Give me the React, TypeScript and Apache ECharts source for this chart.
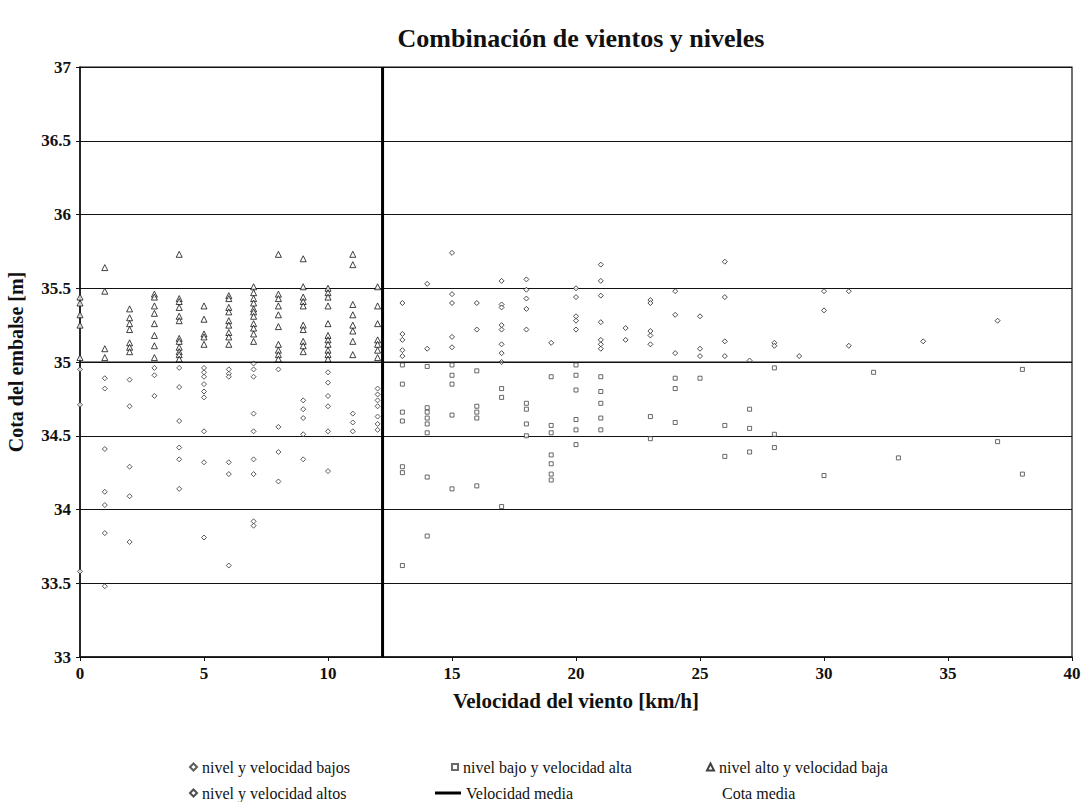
import React, { useEffect, useRef } from 'react';
import * as echarts from 'echarts';

const titulo = 'Combinación de vientos y niveles';
const ejeX = 'Velocidad del viento [km/h]';
const ejeY = 'Cota del embalse [m]';

const velocidadMedia = 12.2;
const cotaMedia = 35;

// [velocidad, [cotas...]]
const nivelVelocidadBajos: [number, number[]][] = [
  [0, [34.95, 34.71, 33.58]],
  [1, [34.89, 34.82, 34.41, 34.12, 34.03, 33.84, 33.48]],
  [2, [34.88, 34.7, 34.29, 34.09, 33.78]],
  [3, [34.96, 34.91, 34.77]],
  [4, [34.96, 34.83, 34.6, 34.42, 34.34, 34.14]],
  [5, [34.96, 34.93, 34.9, 34.85, 34.8, 34.76, 34.53, 34.32, 33.81]],
  [6, [34.95, 34.92, 34.9, 34.32, 34.24, 33.62]],
  [7, [34.99, 34.95, 34.9, 34.65, 34.53, 34.34, 34.24, 33.92, 33.89]],
  [8, [34.95, 34.56, 34.39, 34.19]],
  [9, [34.74, 34.68, 34.62, 34.51, 34.34]],
  [10, [34.93, 34.86, 34.77, 34.7, 34.53, 34.26]],
  [11, [34.65, 34.59, 34.53]],
  [12, [34.82, 34.78, 34.74, 34.7, 34.63, 34.58, 34.54]],
];

const nivelBajoVelocidadAlta: [number, number[]][] = [
  [13, [34.98, 34.85, 34.66, 34.6, 34.29, 34.25, 33.62]],
  [14, [34.97, 34.69, 34.66, 34.62, 34.58, 34.52, 34.22, 33.82]],
  [15, [34.98, 34.91, 34.85, 34.64, 34.14]],
  [16, [34.94, 34.7, 34.66, 34.62, 34.16]],
  [17, [34.82, 34.76, 34.02]],
  [18, [34.72, 34.68, 34.58, 34.5]],
  [19, [34.9, 34.57, 34.52, 34.37, 34.31, 34.24, 34.2]],
  [20, [34.98, 34.91, 34.81, 34.61, 34.54, 34.44]],
  [21, [34.9, 34.8, 34.72, 34.62, 34.54]],
  [23, [34.63, 34.48]],
  [24, [34.89, 34.82, 34.59]],
  [25, [34.89]],
  [26, [34.57, 34.36]],
  [27, [34.68, 34.55, 34.39]],
  [28, [34.96, 34.51, 34.42]],
  [30, [34.23]],
  [32, [34.93]],
  [33, [34.35]],
  [37, [34.46]],
  [38, [34.95, 34.24]],
];

const nivelAltoVelocidadBaja: [number, number[]][] = [
  [0, [35.44, 35.4, 35.32, 35.25, 35.03]],
  [1, [35.64, 35.48, 35.09, 35.03]],
  [2, [35.36, 35.3, 35.26, 35.22, 35.13, 35.1, 35.07]],
  [3, [35.46, 35.44, 35.38, 35.33, 35.26, 35.18, 35.11, 35.03]],
  [4, [35.73, 35.43, 35.41, 35.37, 35.31, 35.28, 35.16, 35.14, 35.1, 35.07, 35.05, 35.02]],
  [5, [35.38, 35.29, 35.19, 35.17, 35.12]],
  [6, [35.45, 35.43, 35.37, 35.34, 35.28, 35.25, 35.2, 35.17, 35.12]],
  [7, [35.51, 35.47, 35.43, 35.4, 35.36, 35.34, 35.31, 35.26, 35.23, 35.19, 35.14]],
  [8, [35.73, 35.46, 35.43, 35.38, 35.32, 35.24, 35.12, 35.08, 35.05, 35.02]],
  [9, [35.7, 35.51, 35.44, 35.41, 35.38, 35.25, 35.22, 35.14, 35.11, 35.07]],
  [10, [35.5, 35.47, 35.44, 35.38, 35.26, 35.18, 35.15, 35.12, 35.08, 35.05, 35.02]],
  [11, [35.73, 35.66, 35.39, 35.32, 35.25, 35.21, 35.14, 35.05]],
  [12, [35.51, 35.38, 35.26, 35.15, 35.12, 35.08, 35.03]],
];

const nivelVelocidadAltos: [number, number[]][] = [
  [13, [35.4, 35.19, 35.15, 35.08, 35.04]],
  [14, [35.53, 35.09]],
  [15, [35.74, 35.46, 35.4, 35.17, 35.1]],
  [16, [35.4, 35.22]],
  [17, [35.55, 35.39, 35.37, 35.25, 35.22, 35.12, 35.06, 35.0]],
  [18, [35.56, 35.49, 35.43, 35.36, 35.22]],
  [19, [35.13]],
  [20, [35.5, 35.44, 35.31, 35.28, 35.22]],
  [21, [35.66, 35.55, 35.45, 35.27, 35.15, 35.12, 35.09]],
  [22, [35.23, 35.15]],
  [23, [35.42, 35.4, 35.21, 35.18, 35.12]],
  [24, [35.48, 35.32, 35.06]],
  [25, [35.31, 35.09, 35.04]],
  [26, [35.68, 35.44, 35.14, 35.04]],
  [27, [35.01]],
  [28, [35.13, 35.11]],
  [29, [35.04]],
  [30, [35.48, 35.35]],
  [31, [35.48, 35.11]],
  [34, [35.14]],
  [37, [35.28]],
];

const nombres = [
  'nivel y velocidad bajos',
  'nivel bajo y velocidad alta',
  'nivel alto y velocidad baja',
  'nivel y velocidad altos',
  'Velocidad media',
  'Cota media',
];

const flat = (cols: [number, number[]][]) =>
  cols.flatMap(([v, ys]) => ys.map((y) => [v, y]));

const FONT = '"Liberation Serif", "DejaVu Serif", serif';

export default function App() {
  const ref = useRef<HTMLDivElement>(null);
  useEffect(() => {
    if (!ref.current) return;
    const chart = echarts.init(ref.current, undefined, { renderer: 'svg' });
    const hollow = (border: string) => ({ color: '#fff', borderColor: border, borderWidth: 1 });
    const legendText = { fontFamily: FONT, fontSize: 16, color: '#111' };
    const mkLegend = (item: any, left: number, top: number, extra: any = {}) => ({
      data: [item],
      left,
      top,
      itemWidth: 7,
      itemHeight: 7,
      selectedMode: false,
      textStyle: legendText,
      ...extra,
    });
    chart.setOption({
      animation: false,
      backgroundColor: '#fff',
      textStyle: { fontFamily: FONT },
      title: {
        text: titulo,
        left: 576,
        textAlign: 'center',
        top: 20,
        textStyle: { fontFamily: FONT, fontSize: 26, fontWeight: 'bold', color: '#111' },
      },
      grid: {
        left: 80,
        right: 16,
        top: 67,
        bottom: 145,
        containLabel: false,
        outerBoundsMode: 'none',
        show: true,
        borderColor: '#111',
        borderWidth: 1.2,
        backgroundColor: 'transparent',
      },
      legend: [
        mkLegend(nombres[0], 184, 754),
        mkLegend(nombres[1], 446, 754, { itemWidth: 6, itemHeight: 6 }),
        mkLegend(nombres[2], 701, 754),
        mkLegend(nombres[3], 184, 780),
        mkLegend({ name: nombres[4], icon: 'rect' }, 430, 780, { itemWidth: 26, itemHeight: 3 }),
        mkLegend({ name: nombres[5], icon: 'none' }, 707, 780, { itemWidth: 5 }),
      ],
      xAxis: {
        type: 'value',
        min: 0,
        max: 40,
        interval: 5,
        name: ejeX,
        nameLocation: 'middle',
        nameGap: 33,
        nameTextStyle: { fontFamily: FONT, fontSize: 21, fontWeight: 'bold', color: '#111' },
        axisLine: { lineStyle: { color: '#111', width: 1.5 } },
        axisTick: { show: true, length: 4, lineStyle: { color: '#111' } },
        axisLabel: { fontFamily: FONT, fontSize: 17, fontWeight: 'bold', color: '#111', margin: 8 },
        splitLine: { show: false },
      },
      yAxis: {
        type: 'value',
        min: 33,
        max: 37,
        interval: 0.5,
        name: ejeY,
        nameLocation: 'middle',
        nameGap: 54,
        nameTextStyle: { fontFamily: FONT, fontSize: 20, fontWeight: 'bold', color: '#111' },
        axisLine: { show: true, lineStyle: { color: '#111', width: 1.5 } },
        axisTick: { show: true, length: 4, lineStyle: { color: '#111' } },
        axisLabel: { fontFamily: FONT, fontSize: 17, fontWeight: 'bold', color: '#111', margin: 9 },
        splitLine: { show: true, lineStyle: { color: '#111', width: 1.2 } },
      },
      series: [
        {
          name: nombres[0],
          type: 'scatter',
          symbol: 'diamond',
          symbolSize: 5,
          itemStyle: hollow('#333'),
          data: flat(nivelVelocidadBajos),
        },
        {
          name: nombres[1],
          type: 'scatter',
          symbol: 'rect',
          symbolSize: 4,
          itemStyle: hollow('#444'),
          data: flat(nivelBajoVelocidadAlta),
        },
        {
          name: nombres[2],
          type: 'scatter',
          symbol: 'triangle',
          symbolSize: 6,
          itemStyle: hollow('#111'),
          data: flat(nivelAltoVelocidadBaja),
        },
        {
          name: nombres[3],
          type: 'scatter',
          symbol: 'diamond',
          symbolSize: 5,
          itemStyle: hollow('#222'),
          data: flat(nivelVelocidadAltos),
        },
        {
          name: nombres[4],
          type: 'line',
          symbol: 'none',
          lineStyle: { color: '#000', width: 3 },
          itemStyle: { color: '#000' },
          data: [
            [velocidadMedia, 33],
            [velocidadMedia, 37],
          ],
        },
        {
          name: nombres[5],
          type: 'line',
          symbol: 'none',
          lineStyle: { color: '#111', width: 1.2 },
          itemStyle: { color: '#111' },
          data: [
            [0, cotaMedia],
            [40, cotaMedia],
          ],
        },
      ],
    });
    return () => chart.dispose();
  }, []);
  return (
    <div
      ref={ref}
      style={{ position: 'fixed', left: 0, top: 0, width: 1088, height: 802, background: '#fff' }}
    />
  );
}
